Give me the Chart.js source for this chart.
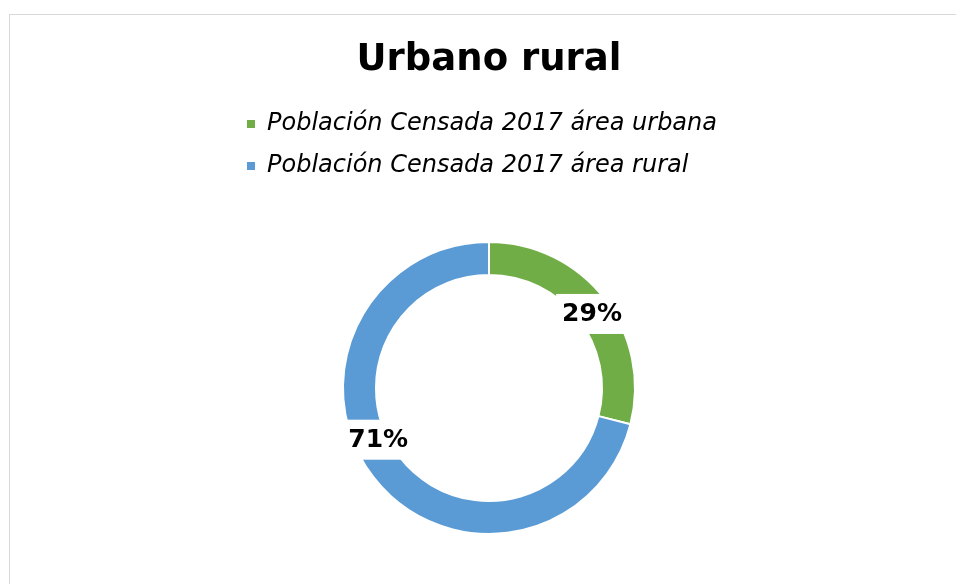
<!DOCTYPE html>
<html>
<head>
<meta charset="utf-8">
<script src="https://cdn.jsdelivr.net/npm/chart.js@4"></script>
<style>
    html, body { margin: 0; padding: 0; background: #fff; overflow: hidden; }
    #frame {
        position: absolute;
        left: 9px;
        top: 14px;
        width: 958px;
        height: 600px;
        border: 1px solid #d9d9d9;
    }
</style>
</head>
<body>
<div id="frame"><canvas id="area-chart"></canvas></div>
<script>

// Data
const categories = [
    "Población Censada 2017 área urbana",
    "Población Censada 2017 área rural"
];
const shares = [29, 71];
const sliceColors = ['#70AD47', '#5B9BD5'];

const areaCanvas = document.querySelector('#area-chart');

// Excel style labels: white box with bold percentage, sitting on the ring
const percentLabels = {
    id: 'percentLabels',
    afterDatasetsDraw(chart, args, opts) {
        const ctx = chart.ctx;
        const arcs = chart.getDatasetMeta(0).data;
        ctx.save();
        ctx.font = 'bold 25px "DejaVu Sans"';
        ctx.textAlign = 'center';
        ctx.textBaseline = 'middle';
        arcs.forEach((arc, i) => {
            const a = arc.startAngle + opts.along[i] * (arc.endAngle - arc.startAngle);
            const r = arc.innerRadius + opts.depth[i] * (arc.outerRadius - arc.innerRadius);
            const x = arc.x + Math.cos(a) * r;
            const y = arc.y + Math.sin(a) * r;
            const text = shares[i] + '%';
            const w = ctx.measureText(text).width;
            ctx.fillStyle = '#fff';
            ctx.fillRect(x - w / 2 - 6, y - 20, w + 12, 40);
            ctx.fillStyle = '#000';
            ctx.fillText(text, x, y + 1);
        });
        ctx.restore();
    }
};

// keeps both legend rows starting at the same x, like Excel's legend block
const legendBlock = {
    id: 'legendBlock',
    beforeDraw(chart) {
        const legend = chart.legend;
        if (!legend || !legend.lineWidths) return;
        const widest = Math.max(...legend.lineWidths);
        legend.lineWidths = legend.lineWidths.map(() => widest + 14);
    }
};

let areaChart = new Chart(areaCanvas, {
    type: 'doughnut',
    data: {
        labels: categories,
        datasets: [{
            data: shares,
            backgroundColor: sliceColors,
            borderColor: '#fff',
            borderWidth: 2
        }]
    },
    options: {
        responsive: true,
        maintainAspectRatio: false,
        animation: false,
        radius: 146,
        cutout: '77.4%',
        layout: {
            padding: { top: 0, bottom: 27, left: 0, right: 0 }
        },
        plugins: {
            title: {
                display: true,
                text: 'Urbano rural',
                color: '#000',
                font: { family: '"DejaVu Sans"', size: 37, weight: 'bold', lineHeight: 1.2 },
                padding: { top: 23, bottom: 11.6 }
            },
            legend: {
                position: 'top',
                labels: {
                    color: '#000',
                    boxWidth: 8,
                    boxHeight: 8,
                    padding: 18,
                    font: { family: '"DejaVu Sans"', size: 24, style: 'italic' },
                    generateLabels(chart) {
                        const items = Chart.overrides.doughnut.plugins.legend.labels.generateLabels(chart);
                        items.forEach(item => { item.lineWidth = 0; });
                        return items;
                    }
                }
            },
            tooltip: { enabled: false },
            percentLabels: {
                along: [0.52, 0.55],
                depth: [0.42, 0.28]
            }
        }
    },
    plugins: [percentLabels, legendBlock]
});

</script>
</body>
</html>
